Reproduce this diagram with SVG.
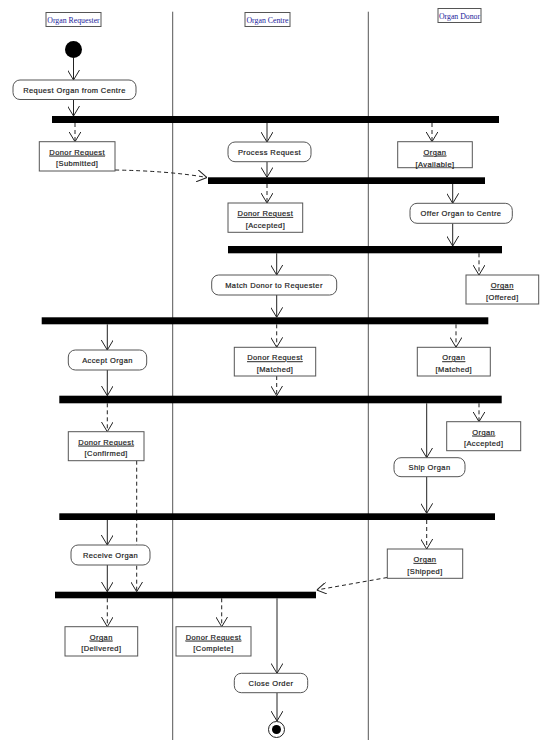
<svg xmlns="http://www.w3.org/2000/svg" width="553" height="755" viewBox="0 0 553 755">
<defs>
<marker id="arr" viewBox="0 0 10 12" refX="10" refY="6" markerWidth="10" markerHeight="12" markerUnits="userSpaceOnUse" orient="auto">
<path d="M0,0 L10,6 L0,12" fill="none" stroke="#222" stroke-width="1"/>
</marker>
<style>
.hdr{fill:#fff;stroke:#555;stroke-width:1}
.ht{font-family:"Liberation Serif","Times New Roman",serif;font-size:7.8px;fill:#1a1a9a;text-anchor:middle}
.lane{stroke:#555;stroke-width:1;fill:none}
.act{fill:#fff;stroke:#555;stroke-width:1}
.obj{fill:#fff;stroke:#555;stroke-width:1}
.t{font-family:"Liberation Sans",Arial,sans-serif;font-size:7.5px;letter-spacing:0.4px;fill:#222;stroke:#222;stroke-width:0.2px;text-anchor:middle}
.u{text-decoration:underline}
.bar{fill:#000}
.s{stroke:#222;stroke-width:1;fill:none;marker-end:url(#arr)}
.d{stroke:#222;stroke-width:1;fill:none;stroke-dasharray:4 3;marker-end:url(#arr)}
</style>
</defs>
<rect x="0" y="0" width="553" height="755" fill="#fff"/>

<g id="lanes">
<line class="lane" x1="172.7" y1="11.7" x2="172.7" y2="740"/>
<line class="lane" x1="368.3" y1="11.7" x2="368.3" y2="740"/>
</g>

<g id="header-requester"><rect class="hdr" x="46" y="12.5" width="55" height="14"/><text class="ht" x="73.5" y="23">Organ Requester</text></g>
<g id="header-centre"><rect class="hdr" x="245" y="12.5" width="45" height="14"/><text class="ht" x="267.5" y="23">Organ Centre</text></g>
<g id="header-donor"><rect class="hdr" x="438" y="8.5" width="43" height="14"/><text class="ht" x="459.5" y="19">Organ Donor</text></g>

<g id="connectors">
<line class="s" x1="73.5" y1="58" x2="73.5" y2="80"/>
<line class="s" x1="73.5" y1="99.5" x2="73.5" y2="116"/>
<line class="d" x1="75" y1="123" x2="75" y2="141.7"/>
<line class="s" x1="267" y1="123" x2="267" y2="142"/>
<line class="d" x1="432" y1="123" x2="432" y2="141.7"/>
<path class="d" d="M115,170 Q170,171 207,177.5"/>
<line class="s" x1="267" y1="161.7" x2="267" y2="177.3"/>
<line class="d" x1="267" y1="184" x2="267" y2="203"/>
<line class="s" x1="452.7" y1="184" x2="452.7" y2="203.3"/>
<line class="s" x1="452.7" y1="223.3" x2="452.7" y2="246"/>
<line class="s" x1="276.7" y1="253.3" x2="276.7" y2="275"/>
<line class="d" x1="479" y1="253.3" x2="479" y2="275"/>
<line class="s" x1="276.7" y1="295" x2="276.7" y2="317.3"/>
<line class="s" x1="107.3" y1="324.3" x2="107.3" y2="350"/>
<line class="d" x1="276.7" y1="324.3" x2="276.7" y2="347.3"/>
<line class="d" x1="456" y1="324.3" x2="456" y2="347.3"/>
<line class="s" x1="107.3" y1="370" x2="107.3" y2="395.7"/>
<line class="d" x1="276.7" y1="376" x2="276.7" y2="395.7"/>
<line class="d" x1="107.3" y1="403.3" x2="107.3" y2="431.7"/>
<line class="s" x1="426.7" y1="403.3" x2="426.7" y2="457.7"/>
<line class="d" x1="479" y1="403.3" x2="479" y2="421.7"/>
<line class="s" x1="426.7" y1="476.7" x2="426.7" y2="513.3"/>
<line class="d" x1="136.7" y1="460.7" x2="136.7" y2="591.7"/>
<line class="s" x1="107.3" y1="520" x2="107.3" y2="545"/>
<line class="d" x1="426.7" y1="520" x2="426.7" y2="549"/>
<line class="s" x1="107.3" y1="565" x2="107.3" y2="591.7"/>
<line class="d" x1="387.3" y1="577.5" x2="316.7" y2="590"/>
<line class="d" x1="107.3" y1="598.3" x2="107.3" y2="626.7"/>
<line class="d" x1="221.7" y1="598.3" x2="221.7" y2="626.7"/>
<line class="s" x1="277" y1="598.3" x2="277" y2="673.3"/>
<line class="s" x1="277" y1="692.7" x2="277" y2="721"/>
</g>

<g id="bars">
<rect id="bar1" class="bar" x="52" y="116" width="447" height="7"/>
<rect id="bar2" class="bar" x="208" y="177.3" width="277" height="6.7"/>
<rect id="bar3" class="bar" x="228" y="246" width="274" height="7.3"/>
<rect id="bar4" class="bar" x="41.7" y="317.3" width="446.6" height="7"/>
<rect id="bar5" class="bar" x="59.3" y="395.7" width="442.4" height="7.6"/>
<rect id="bar6" class="bar" x="59.3" y="513.3" width="435.7" height="6.7"/>
<rect id="bar7" class="bar" x="55" y="591.7" width="261" height="6.6"/>
</g>

<g id="start"><circle cx="73.5" cy="49.5" r="8.5" fill="#000"/></g>

<g id="request-organ"><rect class="act" x="13" y="80" width="123" height="19.5" rx="7"/><text class="t" x="74.5" y="92.7">Request Organ from Centre</text></g>
<g id="process-request"><rect class="act" x="228" y="142" width="83" height="19.7" rx="7"/><text class="t" x="269.5" y="154.7">Process Request</text></g>
<g id="offer-organ"><rect class="act" x="410" y="203.3" width="102.3" height="20" rx="7"/><text class="t" x="461" y="216">Offer Organ to Centre</text></g>
<g id="match-donor"><rect class="act" x="211.7" y="275" width="125" height="20" rx="7"/><text class="t" x="274" y="287.7">Match Donor to Requester</text></g>
<g id="accept-organ"><rect class="act" x="68.3" y="350" width="78.4" height="20" rx="7"/><text class="t" x="107.5" y="362.7">Accept Organ</text></g>
<g id="ship-organ"><rect class="act" x="394" y="457.7" width="71" height="19" rx="7"/><text class="t" x="429.5" y="469.9">Ship Organ</text></g>
<g id="receive-organ"><rect class="act" x="71" y="545" width="79" height="20" rx="7"/><text class="t" x="110.5" y="557.7">Receive Organ</text></g>
<g id="close-order"><rect class="act" x="234.3" y="673.3" width="73.4" height="19.4" rx="7"/><text class="t" x="271" y="685.9">Close Order</text></g>

<g id="dr-submitted"><rect class="obj" x="39.3" y="141.7" width="75.7" height="29.3"/><text class="t u" x="77.2" y="154.7">Donor Request</text><text class="t" x="77.2" y="166.2">[Submitted]</text></g>
<g id="organ-available"><rect class="obj" x="397.7" y="141.7" width="74.6" height="26"/><text class="t u" x="435" y="154.7">Organ </text><text class="t" x="435" y="167">[Available]</text></g>
<g id="dr-accepted"><rect class="obj" x="228" y="203" width="74.7" height="29.3"/><text class="t u" x="265.4" y="216">Donor Request</text><text class="t" x="265.4" y="227.5">[Accepted]</text></g>
<g id="organ-offered"><rect class="obj" x="466" y="275" width="72.7" height="29"/><text class="t u" x="502.3" y="288">Organ</text><text class="t" x="502.3" y="299.5">[Offered]</text></g>
<g id="dr-matched"><rect class="obj" x="234.3" y="347.3" width="81.4" height="28.7"/><text class="t u" x="275" y="360.3">Donor Request</text><text class="t" x="275" y="371.8">[Matched]</text></g>
<g id="organ-matched"><rect class="obj" x="417.3" y="347.3" width="73" height="28.7"/><text class="t u" x="453.8" y="360.3">Organ</text><text class="t" x="453.8" y="371.8">[Matched]</text></g>
<g id="dr-confirmed"><rect class="obj" x="68.3" y="431.7" width="75.7" height="29"/><text class="t u" x="106.2" y="444.7">Donor Request</text><text class="t" x="106.2" y="456.2">[Confirmed]</text></g>
<g id="organ-accepted"><rect class="obj" x="446.7" y="421.7" width="74" height="29"/><text class="t u" x="483.7" y="434.7">Organ</text><text class="t" x="483.7" y="446.2">[Accepted]</text></g>
<g id="organ-shipped"><rect class="obj" x="387.3" y="549" width="75.4" height="29.3"/><text class="t u" x="425" y="562">Organ</text><text class="t" x="425" y="573.5">[Shipped]</text></g>
<g id="organ-delivered"><rect class="obj" x="65" y="626.7" width="72.7" height="29.3"/><text class="t u" x="101.3" y="639.7">Organ</text><text class="t" x="101.3" y="651.2">[Delivered]</text></g>
<g id="dr-complete"><rect class="obj" x="176" y="626.7" width="75" height="29.3"/><text class="t u" x="213.5" y="639.7">Donor Request</text><text class="t" x="213.5" y="651.2">[Complete]</text></g>

<g id="end"><circle cx="276.5" cy="729.5" r="8" fill="#fff" stroke="#222" stroke-width="1"/><circle cx="276.5" cy="729.5" r="4.5" fill="#000"/></g>
</svg>
